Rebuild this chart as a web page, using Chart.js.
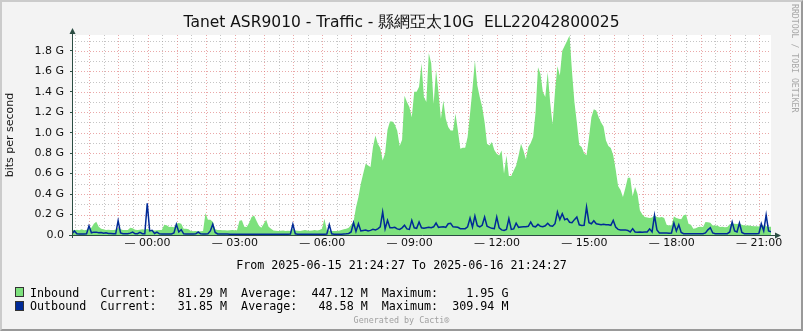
<!DOCTYPE html>
<html>
<head>
<meta charset="utf-8">
<script src="https://cdn.jsdelivr.net/npm/chart.js@4.4.1/dist/chart.umd.min.js"></script>
<style>
html,body{margin:0;padding:0;}
body{width:803px;height:331px;position:relative;background:#F3F3F3;overflow:hidden;}
#frame{position:absolute;left:0;top:0;width:803px;height:331px;box-sizing:border-box;border-top:2px solid #CBCBCB;border-left:2px solid #CBCBCB;border-right:2px solid #999999;border-bottom:2px solid #999999;}
#c{position:absolute;left:0;top:0;}
.t{position:absolute;white-space:pre;color:#000;}
#title{left:0;width:803px;text-align:center;top:11.5px;font-family:"DejaVu Sans";font-size:15.5px;line-height:20px;color:#111;}
.mono{font-family:"DejaVu Sans Mono";font-size:11.7px;line-height:14px;}
#range{left:0;width:803px;text-align:center;top:257.5px;}
#l1{left:30px;top:285.5px;}
#l2{left:30px;top:299px;}
.sw{position:absolute;left:15px;width:7px;height:8px;border:1px solid #333;}
#s1{top:287px;background:#7DE17D;}
#s2{top:301px;background:#002A97;}
#gen{left:0;width:803px;text-align:center;top:314.5px;font-family:"DejaVu Sans Mono";font-size:8.4px;line-height:10px;color:#A0A0A0;}
#wm{left:791px;top:4px;font-family:"DejaVu Sans Mono";font-size:8.2px;line-height:7px;color:#A8A8A8;writing-mode:vertical-rl;}
</style>
</head>
<body>
<div id="frame"></div>
<canvas id="c" width="803" height="331"></canvas>
<div id="title" class="t">Tanet ASR9010 - Traffic - 縣網亞太10G  ELL22042800025</div>
<div id="range" class="t mono">From 2025-06-15 21:24:27 To 2025-06-16 21:24:27</div>
<div id="s1" class="sw"></div>
<div id="s2" class="sw"></div>
<div id="l1" class="t mono">Inbound   Current:   81.29 M  Average:  447.12 M  Maximum:    1.95 G</div>
<div id="l2" class="t mono">Outbound  Current:   31.85 M  Average:   48.58 M  Maximum:  309.94 M</div>
<div id="gen" class="t">Generated by Cacti®</div>
<div id="wm" class="t">RRDTOOL / TOBI OETIKER</div>
<script>
// ---- data (values in M bits/s, one sample every 5 minutes from 21:24:27) ----
const stepMinutes = 5;
const startClockHours = 21 + 24/60 + 27/3600;

const inbound = [
  52, 46, 52, 46, 55, 46, 52, 60, 70, 110,
  130, 80, 60, 55, 50, 52, 48, 50, 52, 70,
  55, 50, 48, 50, 72, 65, 52, 50, 52, 55,
  52, 60, 48, 46, 45, 46, 48, 50, 100, 95,
  78, 80, 75, 110, 117, 110, 62, 60, 55, 40,
  36, 38, 35, 36, 40, 215, 150, 150, 130, 55,
  50, 48, 46, 46, 45, 46, 48, 46, 46, 140,
  143, 80, 78, 120, 175, 190, 140, 90, 70, 110,
  150, 80, 60, 45, 42, 40, 42, 45, 40, 42,
  40, 60, 45, 42, 40, 45, 48, 45, 42, 45,
  48, 45, 50, 60, 160, 50, 45, 40, 38, 40,
  42, 48, 55, 62, 70, 100, 130, 270, 370, 500,
  600, 697, 680, 664, 860, 973, 892, 850, 729, 800,
  1030, 1110, 1110, 1080, 1020, 870, 930, 1360, 1300, 1250,
  1150, 1400, 1400, 1450, 1680, 1350, 1300, 1780, 1680, 1283,
  1614, 1396, 1136, 1315, 1136, 1055, 1022, 1022, 1185, 1022,
  843, 853, 853, 957, 1185, 1429, 1705, 1462, 1348, 1250,
  1103, 892, 876, 908, 830, 794, 778, 827, 599, 778,
  576, 576, 631, 680, 778, 892, 827, 740, 860, 900,
  960, 1200, 1640, 1575, 1400, 1350, 1590, 1300, 1080, 1400,
  1650, 1560, 1800, 1850, 1900, 1950, 1600, 1300, 1100, 880,
  860, 800, 780, 950, 1150, 1230, 1217, 1150, 1100, 1060,
  924, 870, 850, 780, 640, 480, 440, 371, 460, 560,
  560, 380, 470, 400, 240, 200, 175, 170, 165, 170,
  192, 175, 170, 175, 165, 100, 94, 95, 182, 165,
  160, 155, 192, 200, 110, 100, 62, 65, 78, 80,
  78, 127, 125, 120, 94, 92, 90, 78, 80, 76,
  78, 105, 110, 110, 108, 112, 100, 94, 92, 94,
  88, 85, 86, 84, 100, 90, 85, 80, 81.29
];

const outbound = [
  12, 40, 12, 10, 10, 10, 12, 90, 22, 28,
  28, 22, 25, 18, 22, 15, 15, 12, 12, 140,
  20, 12, 12, 12, 18, 28, 12, 12, 25, 12,
  12, 310, 40, 46, 15, 29, 12, 10, 10, 10,
  10, 10, 20, 104, 30, 52, 12, 10, 10, 10,
  10, 12, 29, 12, 10, 10, 12, 40, 105, 25,
  10, 10, 10, 10, 10, 8, 8, 8, 8, 8,
  8, 8, 8, 8, 8, 8, 8, 8, 8, 8,
  8, 8, 8, 8, 8, 8, 8, 8, 8, 8,
  10, 105, 12, 8, 8, 8, 8, 8, 8, 8,
  8, 8, 8, 8, 8, 10, 100, 12, 8, 8,
  8, 8, 10, 12, 15, 30, 120, 35, 110, 40,
  45, 48, 40, 45, 55, 50, 60, 80, 225, 60,
  143, 70, 70, 75, 60, 55, 70, 95, 60, 55,
  143, 70, 65, 127, 70, 65, 70, 75, 72, 80,
  117, 75, 78, 80, 75, 110, 115, 80, 78, 75,
  62, 60, 62, 80, 165, 78, 185, 90, 80, 95,
  175, 85, 75, 65, 62, 175, 70, 50, 45, 55,
  160, 55, 60, 115, 75, 78, 80, 80, 85, 127,
  85, 80, 104, 85, 80, 90, 115, 90, 85, 110,
  225, 150, 208, 150, 160, 125, 120, 150, 176, 100,
  94, 95, 273, 120, 110, 140, 110, 105, 100, 105,
  100, 100, 95, 143, 78, 55, 50, 48, 50, 45,
  30, 62, 30, 28, 29, 28, 30, 29, 60, 30,
  192, 50, 20, 20, 20, 20, 18, 20, 117, 40,
  100, 25, 13, 13, 13, 13, 13, 13, 13, 13,
  13, 20, 50, 72, 20, 13, 13, 13, 13, 13,
  13, 30, 127, 40, 30, 117, 25, 13, 13, 13,
  13, 13, 13, 15, 110, 40, 195, 40, 31.85
];

const xTickLabels = ['00:00','03:00','06:00','09:00','12:00','15:00','18:00','21:00'];
const yTickValues = [0, 200, 400, 600, 800, 1000, 1200, 1400, 1600, 1800];
const yMax = 1955;

function hoursFromStart(label){
  const [h, m] = label.split(':').map(Number);
  return (((h + m/60) - startClockHours) % 24 + 24) % 24;
}
const toPoints = arr => arr.map((v, i) => ({x: i * stepMinutes / 60, y: v}));

const AXIS = '#2C4D43';
const rrdPlugin = {
  id: 'rrd',
  beforeDatasetsDraw(chart){
    const {ctx, chartArea: a, scales: {x, y}} = chart;
    ctx.save();
    ctx.fillStyle = '#FFFFFF';
    ctx.fillRect(a.left, a.top, a.right - a.left, a.bottom - a.top);
    ctx.lineWidth = 1;
    ctx.setLineDash([1, 2]);
    for (let v = 100; v < yMax; v += 100){
      const py = Math.round(y.getPixelForValue(v)) + 0.5;
      ctx.strokeStyle = (v % 200 === 0) ? 'rgba(220,110,110,0.6)' : 'rgba(150,150,150,0.55)';
      ctx.beginPath(); ctx.moveTo(a.left, py); ctx.lineTo(a.right, py); ctx.stroke();
    }
    const firstHalf = (Math.ceil(startClockHours * 2) / 2) - startClockHours;
    for (let k = 0; ; k++){
      const h = firstHalf + 0.5 * k;
      if (h >= 24) break;
      const px = Math.round(x.getPixelForValue(h)) + 0.5;
      const frac = (startClockHours + h) % 1;
      const isHour = frac < 0.01 || frac > 0.99;
      ctx.strokeStyle = isHour ? 'rgba(220,110,110,0.6)' : 'rgba(150,150,150,0.55)';
      ctx.beginPath(); ctx.moveTo(px, a.top); ctx.lineTo(px, a.bottom); ctx.stroke();
    }
    ctx.restore();
  },
  afterDatasetsDraw(chart){
    const {ctx, chartArea: a, scales: {x, y}} = chart;
    const y0 = Math.round(y.getPixelForValue(0)) + 0.5;
    const x0 = Math.round(a.left) + 0.5;
    ctx.save();
    ctx.strokeStyle = AXIS; ctx.fillStyle = AXIS; ctx.lineWidth = 1;
    ctx.beginPath(); ctx.moveTo(a.left - 3, y0); ctx.lineTo(a.right + 5, y0); ctx.stroke();
    ctx.beginPath(); ctx.moveTo(x0, a.bottom + 3); ctx.lineTo(x0, a.top - 2); ctx.stroke();
    ctx.beginPath(); ctx.moveTo(a.right + 10, y0); ctx.lineTo(a.right + 4, y0 - 3); ctx.lineTo(a.right + 4, y0 + 3); ctx.closePath(); ctx.fill();
    ctx.beginPath(); ctx.moveTo(x0, a.top - 7); ctx.lineTo(x0 - 3, a.top - 1); ctx.lineTo(x0 + 3, a.top - 1); ctx.closePath(); ctx.fill();
    ctx.restore();
  }
};

new Chart(document.getElementById('c'), {
  type: 'line',
  data: {
    datasets: [
      {label: 'Inbound', data: toPoints(inbound), fill: 'origin', backgroundColor: '#7DE17D', borderColor: '#7DE17D', borderWidth: 0, pointRadius: 0, tension: 0, order: 2},
      {label: 'Outbound', data: toPoints(outbound), fill: false, borderColor: '#002A97', borderWidth: 1.5, pointRadius: 0, tension: 0, order: 1}
    ]
  },
  options: {
    responsive: false,
    animation: false,
    devicePixelRatio: 1,
    events: [],
    layout: {padding: {left: 0, top: 35, right: 32, bottom: 76}},
    plugins: {legend: {display: false}, tooltip: {enabled: false}},
    scales: {
      x: {
        type: 'linear', min: 0, max: 24,
        afterBuildTicks: s => { s.ticks = xTickLabels.map(l => ({value: hoursFromStart(l)})); },
        afterFit: s => { s.height = 20; },
        grid: {display: false, drawTicks: false, tickLength: 0},
        border: {display: false},
        ticks: {autoSkip: false, maxRotation: 0, padding: 2, color: '#111',
          font: {family: 'DejaVu Sans', size: 11},
          callback: (v, i) => '\u2014 ' + xTickLabels[i]}
      },
      y: {
        type: 'linear', min: 0, max: yMax,
        afterBuildTicks: s => { s.ticks = yTickValues.map(v => ({value: v})); },
        afterFit: s => { s.width = 72; },
        grid: {display: true, drawOnChartArea: false, drawTicks: true, tickLength: 2, tickColor: AXIS, color: AXIS},
        border: {display: false},
        ticks: {padding: 6, color: '#111', font: {family: 'DejaVu Sans', size: 11},
          callback: v => v === 0 ? '0.0' : (v / 1000).toFixed(1) + ' G'},
        title: {display: true, text: 'bits per second', color: '#111',
          font: {family: 'DejaVu Sans', size: 11}, padding: {top: 4, bottom: 4}}
      }
    }
  },
  plugins: [rrdPlugin]
});
</script>
</body>
</html>
